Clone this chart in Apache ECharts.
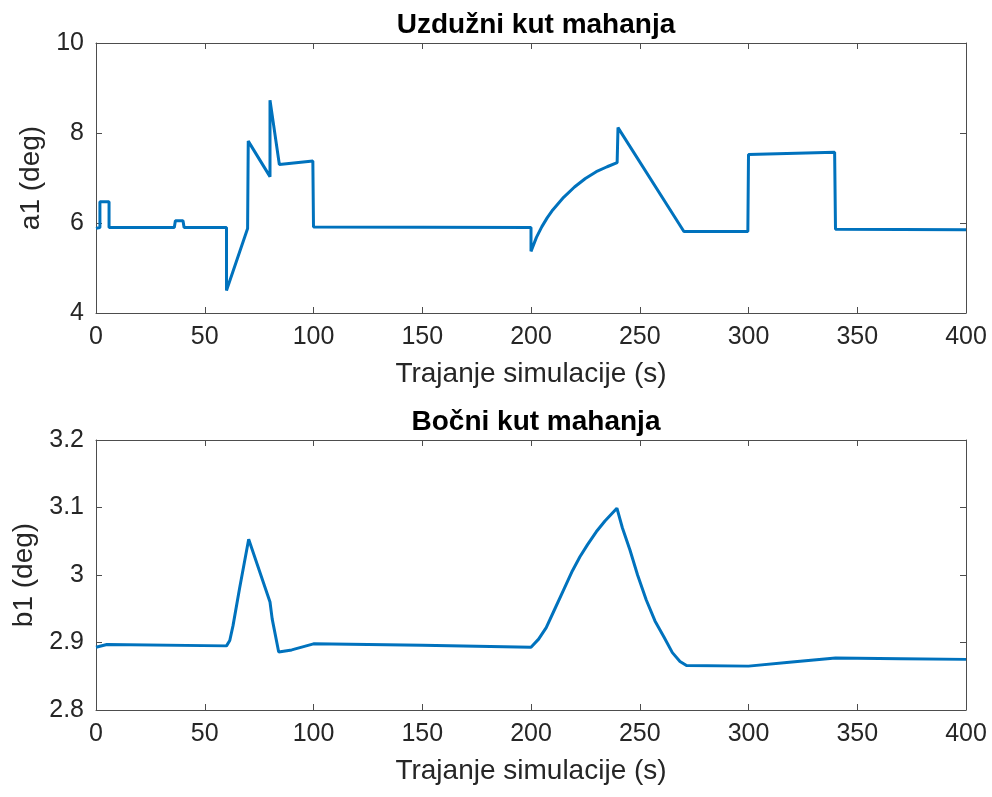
<!DOCTYPE html>
<html>
<head>
<meta charset="utf-8">
<script src="https://cdn.jsdelivr.net/npm/echarts@6/dist/echarts.min.js"></script>
<style>
  html, body { margin: 0; padding: 0; background: #fff; }
  #chart { width: 992px; height: 797px; }
</style>
</head>
<body>
<div id="chart"></div>
<script>
// Uzdužni kut mahanja (a1)
const a1Time = [0, 1.8, 1.8, 6, 6, 36, 36.5, 40, 40.5, 60, 60, 69.7, 70, 80, 80, 84.3, 99.7, 100,
  200, 200, 202.5, 205, 207.5, 210, 215, 220, 225, 230, 235, 239.6, 240, 270.3,
  299.7, 300, 339.6, 340, 400];
const a1Values = [5.88, 5.9, 6.47, 6.47, 5.9, 5.9, 6.05, 6.05, 5.9, 5.9, 4.5, 5.88, 7.82, 7.03, 8.73, 7.3, 7.38, 5.91,
  5.9, 5.37, 5.68, 5.92, 6.12, 6.29, 6.57, 6.8, 6.99, 7.14, 7.25, 7.34, 8.12, 5.81,
  5.81, 7.52, 7.57, 5.86, 5.85];

// Bočni kut mahanja (b1)
const b1Time = [0, 5, 60, 61.5, 63, 66, 70.2, 80, 81, 84, 90, 100, 150, 200,
  203.5, 207, 211, 215, 219, 222.5, 226, 230, 234, 239.5,
  242, 245.5, 249, 253, 257, 261, 265, 268.5, 271.5, 300, 320, 340, 370, 400];
const b1Values = [2.893, 2.897, 2.895, 2.903, 2.925, 2.98, 3.053, 2.96, 2.935, 2.886, 2.889, 2.898, 2.896, 2.893,
  2.905, 2.922, 2.95, 2.978, 3.006, 3.027, 3.045, 3.064, 3.08, 3.099,
  3.07, 3.037, 3.0, 2.963, 2.932, 2.909, 2.885, 2.872, 2.866, 2.865, 2.871, 2.877, 2.876, 2.875];

const titles = ['Uzdužni kut mahanja', 'Bočni kut mahanja'];
const yNames = ['a1 (deg)', 'b1 (deg)'];
const xName = 'Trajanje simulacije (s)';

const FONT = '"Liberation Sans", Arial, sans-serif';
const AXIS_COLOR = '#4d4d4d';
const TEXT_COLOR = '#262626';
const LINE_COLOR = '#0072BD';

const zip = (xs, ys) => xs.map((x, i) => [x, ys[i]]);

const grids = [
  { left: 96, right: 26, top: 43, height: 270 },
  { left: 96, right: 26, top: 440, height: 270 },
];

function xAxisFor(gridIndex, position, showLabels) {
  return {
    type: 'value', gridIndex, position, min: 0, max: 400, interval: 50,
    name: showLabels ? xName : '',
    nameLocation: 'middle', nameGap: 47,
    nameTextStyle: { fontFamily: FONT, fontSize: 28, color: TEXT_COLOR },
    axisLine: { show: true, onZero: false, lineStyle: { color: AXIS_COLOR, width: 1 } },
    axisTick: { show: true, inside: true, length: 6, lineStyle: { color: AXIS_COLOR } },
    axisLabel: { show: showLabels, fontFamily: FONT, fontSize: 25, color: TEXT_COLOR, margin: 12 },
    splitLine: { show: false },
  };
}

function yAxisFor(gridIndex, position, showLabels, min, max, interval, decimals) {
  return {
    type: 'value', gridIndex, position, min, max, interval,
    name: showLabels ? yNames[gridIndex] : '',
    nameLocation: 'middle', nameGap: 50, nameRotate: 90,
    nameTextStyle: { fontFamily: FONT, fontSize: 28, color: TEXT_COLOR },
    axisLine: { show: true, onZero: false, lineStyle: { color: AXIS_COLOR, width: 1 } },
    axisTick: { show: true, inside: true, length: 6, lineStyle: { color: AXIS_COLOR } },
    axisLabel: {
      show: showLabels, fontFamily: FONT, fontSize: 25, color: TEXT_COLOR, margin: 12,
      formatter: (v) => decimals ? (Math.abs(v - 3) < 1e-9 ? '3' : v.toFixed(decimals)) : String(Math.round(v)),
    },
    splitLine: { show: false },
  };
}

const chart = echarts.init(document.getElementById('chart'), null, { renderer: 'canvas' });

chart.setOption({
  animation: false,
  backgroundColor: '#ffffff',
  title: titles.map((text, i) => ({
    text, left: 531, top: i === 0 ? 6 : 403, textAlign: 'center',
    textStyle: { fontFamily: FONT, fontSize: 28, fontWeight: 'bold', color: '#000' },
  })),
  grid: grids,
  xAxis: [
    xAxisFor(0, 'bottom', true), xAxisFor(0, 'top', false),
    xAxisFor(1, 'bottom', true), xAxisFor(1, 'top', false),
  ],
  yAxis: [
    yAxisFor(0, 'left', true, 4, 10, 2, 0), yAxisFor(0, 'right', false, 4, 10, 2, 0),
    yAxisFor(1, 'left', true, 2.8, 3.2, 0.1, 1), yAxisFor(1, 'right', false, 2.8, 3.2, 0.1, 1),
  ],
  series: [
    {
      type: 'line', xAxisIndex: 0, yAxisIndex: 0, data: zip(a1Time, a1Values),
      showSymbol: false, lineStyle: { color: LINE_COLOR, width: 3 }, itemStyle: { color: LINE_COLOR },
    },
    {
      type: 'line', xAxisIndex: 2, yAxisIndex: 2, data: zip(b1Time, b1Values),
      showSymbol: false, lineStyle: { color: LINE_COLOR, width: 3 }, itemStyle: { color: LINE_COLOR },
    },
  ],
});
</script>
</body>
</html>
